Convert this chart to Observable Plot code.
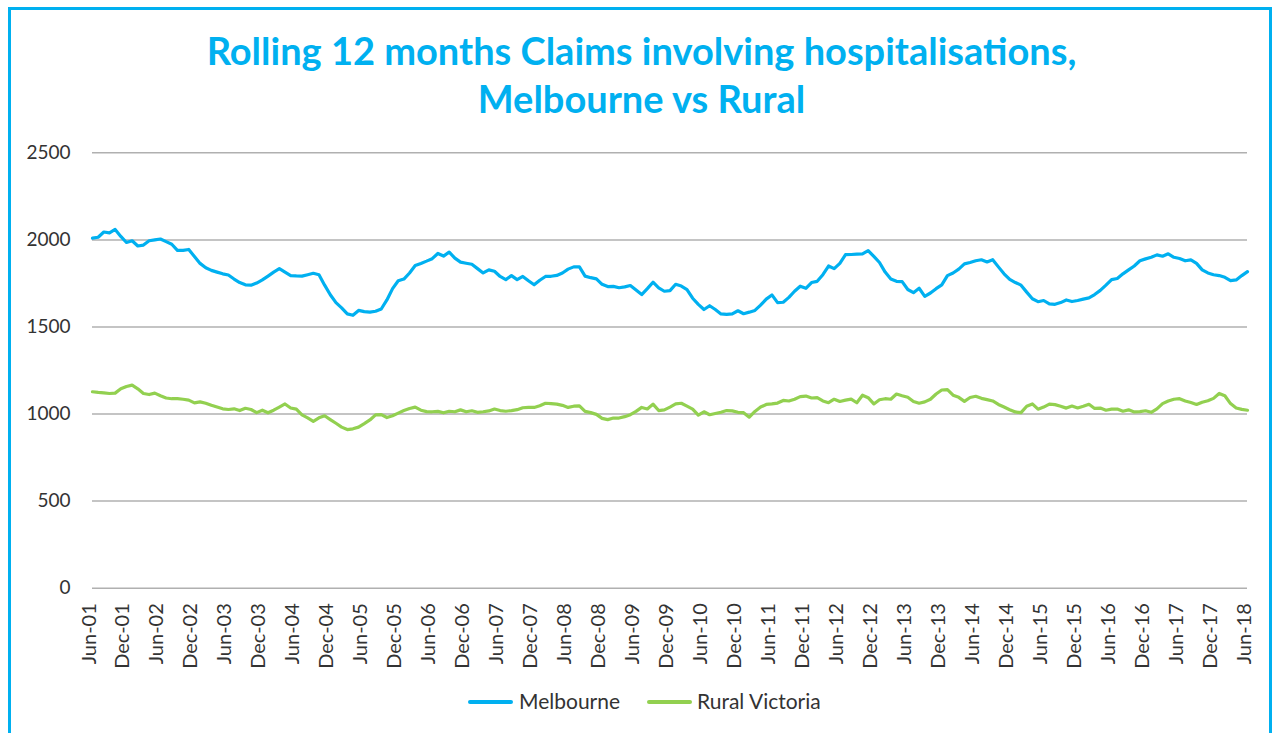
<!DOCTYPE html>
<html>
<head>
<meta charset="utf-8">
<script src="https://cdn.jsdelivr.net/npm/d3@7"></script>
<script src="https://cdn.jsdelivr.net/npm/@observablehq/plot@0.6"></script>
<style>
html, body { margin: 0; padding: 0; background: #fff; }
body { width: 1273px; height: 733px; overflow: hidden; position: relative; font-family: Lato, "Open Sans", sans-serif; }
#frame { position: absolute; left: 8px; top: 7px; width: 1258px; height: 800px; border: 3px solid #00B0F0; }
#chart { position: absolute; left: 0; top: 0; }
#title { position: absolute; left: 5px; top: 26px; width: 1273px; text-align: center; color: #00B0F0; font: bold 38px/48px Lato, sans-serif; }
.sw { position: absolute; height: 4px; border-radius: 2px; top: 700px; }
.lt { position: absolute; top: 690px; font: 21px/21px Lato, sans-serif; color: #333; white-space: nowrap; }
</style>
</head>
<body>
<div id="frame"></div>
<div id="chart"></div>
<div id="title">Rolling 12 months Claims involving hospitalisations,<br>Melbourne vs Rural</div>
<div class="sw" style="left:468px;width:45px;background:#00B0F0"></div>
<div class="lt" style="left:519px">Melbourne</div>
<div class="sw" style="left:647px;width:45px;background:#92D050"></div>
<div class="lt" style="left:697px">Rural Victoria</div>
<script>
const seriesNames = ["Melbourne", "Rural Victoria"];
const seriesColors = ["#00B0F0", "#92D050"];
const yTicks = [0, 500, 1000, 1500, 2000, 2500];
const xTickLabels = ["Jun-01","Dec-01","Jun-02","Dec-02","Jun-03","Dec-03","Jun-04","Dec-04","Jun-05","Dec-05",
  "Jun-06","Dec-06","Jun-07","Dec-07","Jun-08","Dec-08","Jun-09","Dec-09","Jun-10","Dec-10",
  "Jun-11","Dec-11","Jun-12","Dec-12","Jun-13","Dec-13","Jun-14","Dec-14","Jun-15","Dec-15",
  "Jun-16","Dec-16","Jun-17","Dec-17","Jun-18"];

// Monthly values, Jun-01 .. Jun-18 (205 months)
const melbourne = [
  2010,2015,2045,2040,2060,2020,1985,1995,1965,1970,1995,2000,
  2005,1990,1975,1940,1940,1945,1905,1865,1840,1825,1815,1805,
  1798,1775,1755,1742,1740,1752,1770,1792,1815,1835,1815,1795,
  1793,1792,1800,1808,1800,1740,1685,1640,1610,1575,1567,1595,
  1588,1585,1590,1603,1655,1720,1765,1775,1810,1853,1865,1878,
  1892,1922,1907,1930,1895,1872,1866,1860,1835,1810,1828,1820,
  1790,1772,1795,1772,1790,1765,1742,1768,1790,1791,1796,1810,
  1832,1845,1845,1792,1783,1776,1745,1732,1733,1725,1730,1738,
  1712,1686,1720,1757,1725,1705,1709,1745,1735,1715,1665,1630,
  1600,1622,1600,1575,1572,1575,1593,1576,1585,1595,1625,1660,
  1684,1640,1642,1670,1705,1734,1722,1755,1762,1800,1850,1835,
  1865,1915,1916,1918,1920,1938,1905,1870,1815,1775,1762,1760,
  1715,1697,1722,1676,1695,1720,1742,1795,1810,1832,1862,1870,
  1880,1886,1873,1886,1845,1805,1773,1755,1740,1700,1662,1645,
  1652,1632,1630,1640,1655,1646,1652,1660,1667,1686,1710,1740,
  1772,1778,1805,1828,1850,1880,1891,1900,1914,1906,1920,1900,
  1893,1880,1885,1865,1828,1810,1800,1795,1785,1766,1770,1795,
  1818
];
const ruralVictoria = [
  1128,1124,1122,1118,1120,1145,1158,1166,1145,1118,1112,1120,
  1105,1092,1088,1088,1085,1080,1064,1070,1062,1050,1040,1030,
  1026,1030,1020,1033,1026,1008,1022,1007,1022,1040,1058,1035,
  1028,995,978,958,978,990,968,947,925,911,915,925,
  945,966,995,997,980,990,1005,1020,1032,1040,1022,1014,
  1013,1015,1007,1016,1013,1024,1013,1019,1010,1013,1018,1029,
  1020,1016,1020,1025,1036,1038,1038,1048,1062,1060,1057,1050,
  1038,1045,1047,1015,1008,998,975,968,977,977,985,996,
  1015,1038,1029,1057,1020,1024,1040,1058,1062,1045,1028,994,
  1013,996,1003,1010,1020,1018,1010,1008,982,1015,1040,1055,
  1058,1063,1078,1075,1085,1100,1103,1092,1094,1075,1065,1085,
  1072,1080,1086,1065,1108,1094,1058,1082,1088,1085,1115,1105,
  1096,1072,1062,1070,1085,1115,1138,1140,1108,1096,1073,1095,
  1102,1090,1083,1075,1055,1040,1025,1012,1008,1045,1058,1028,
  1040,1057,1054,1045,1034,1046,1035,1045,1056,1032,1034,1022,
  1028,1029,1016,1024,1012,1014,1019,1010,1030,1060,1075,1085,
  1088,1075,1066,1055,1068,1076,1090,1118,1105,1060,1035,1027,
  1022
];

const rows = [];
[melbourne, ruralVictoria].forEach((vals, s) => vals.forEach((v, i) => rows.push({ month: i, value: v, series: seriesNames[s] })));
const xTicks = xTickLabels.map((label, k) => ({ month: k * 6, label }));

const chart = Plot.plot({
  width: 1273,
  height: 733,
  marginTop: 152.3,
  marginBottom: 145.3,
  marginLeft: 92,
  marginRight: 26,
  style: { background: "transparent", fontFamily: "Lato, sans-serif", overflow: "visible" },
  x: { domain: [0, melbourne.length - 1], axis: null },
  y: { domain: [0, 2500], axis: null },
  color: { domain: seriesNames, range: seriesColors },
  marks: [
    Plot.ruleY(yTicks, { stroke: "#b0b0b0", strokeWidth: 1.5 }),
    Plot.text(yTicks, { y: d => d, text: d => String(d), frameAnchor: "left", textAnchor: "end", dx: -22, fontSize: 19, fill: "#333" }),
    Plot.text(xTicks, { x: "month", text: "label", frameAnchor: "bottom", rotate: -90, textAnchor: "end", dy: 15, dx: 3, fontSize: 20, fill: "#333" }),
    Plot.line(rows, { x: "month", y: "value", z: "series", stroke: "series", strokeWidth: 3.2, strokeLinejoin: "round", strokeLinecap: "round" })
  ]
});
document.getElementById("chart").appendChild(chart);
</script>
</body>
</html>
